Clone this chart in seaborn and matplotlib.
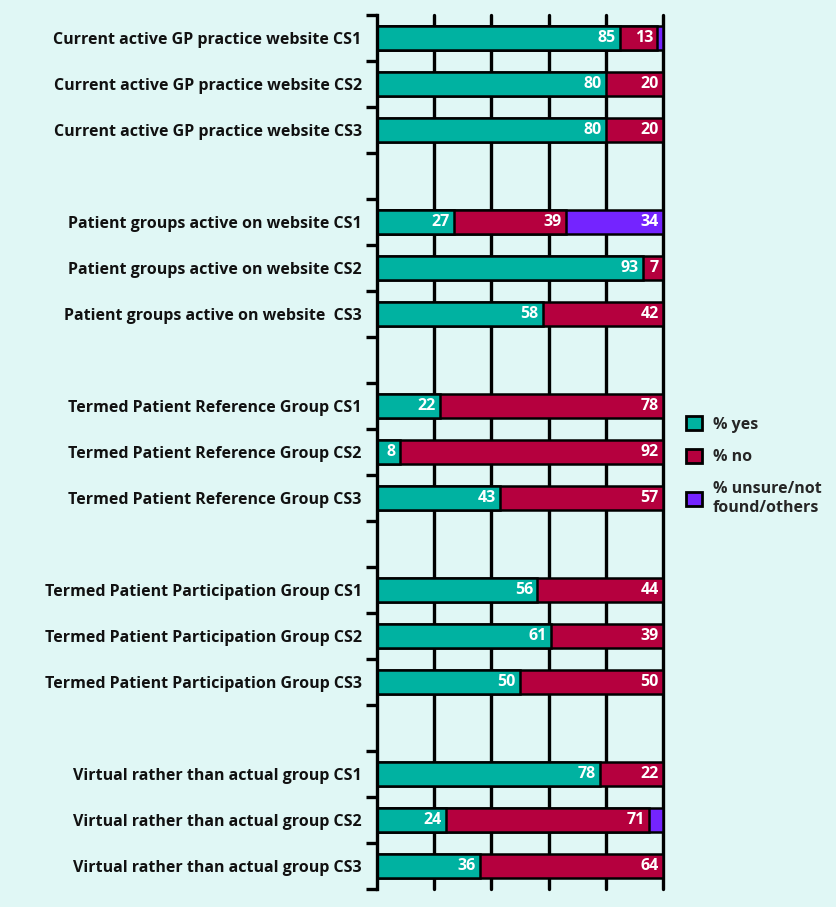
import pandas as pd
import seaborn as sns
import matplotlib.pyplot as plt
from matplotlib.patches import Patch

# chart data (percent of practices)
categories = [
    'Current active GP practice website CS1',
    'Current active GP practice website CS2',
    'Current active GP practice website CS3',
    'Patient groups active on website CS1',
    'Patient groups active on website CS2',
    'Patient groups active on website  CS3',
    'Termed Patient Reference Group CS1',
    'Termed Patient Reference Group CS2',
    'Termed Patient Reference Group CS3',
    'Termed Patient Participation Group CS1',
    'Termed Patient Participation Group CS2',
    'Termed Patient Participation Group CS3',
    'Virtual rather than actual group CS1',
    'Virtual rather than actual group CS2',
    'Virtual rather than actual group CS3',
]
pct_yes = [85, 80, 80, 27, 93, 58, 22, 8, 43, 56, 61, 50, 78, 24, 36]
pct_no = [13, 20, 20, 39, 7, 42, 78, 92, 57, 44, 39, 50, 22, 71, 64]
pct_unsure = [2, 0, 0, 34, 0, 0, 0, 0, 0, 0, 0, 0, 0, 5, 0]

# empty rows between the groups of three
order = []
for i, c in enumerate(categories):
    order.append(c)
    if i % 3 == 2 and i < len(categories) - 1:
        order.append(' ' * (i // 3 + 1))

df = pd.DataFrame({'label': categories, 'yes': pct_yes, 'no': pct_no, 'unsure': pct_unsure})
df['yes_no'] = df['yes'] + df['no']
df['total'] = df['yes_no'] + df['unsure']

teal = '#00b2a1'
crimson = '#b5003e'
purple = '#7424ff'
bg = '#e0f7f5'

sns.set_theme(style='white')
plt.rcParams['font.family'] = ['Open Sans', 'DejaVu Sans']
plt.rcParams['font.weight'] = 'bold'

fig = plt.figure(figsize=(8.37, 9.07), dpi=100, facecolor=bg)
ax = fig.add_axes([0.4504, 0.0198, 0.3417, 0.9637])
ax.set_facecolor(bg)

bar_kw = dict(orient='h', order=order, width=0.52, edgecolor='black', linewidth=1.8, errorbar=None)
sub = df[df['unsure'] > 0]
sns.barplot(data=sub, x='total', y='label', color=purple, saturation=1, ax=ax, **bar_kw)
sns.barplot(data=df, x='yes_no', y='label', color=crimson, saturation=1, ax=ax, **bar_kw)
sns.barplot(data=df, x='yes', y='label', color=teal, saturation=1, ax=ax, **bar_kw)

ax.set_xlim(0, 100)
ax.set_ylim(len(order) - 0.5, -0.5)
ax.set_xlabel('')
ax.set_ylabel('')
ax.set_xticks([])

for x in [20, 40, 60, 80, 100]:
    ax.axvline(x, color='black', lw=2.4, zorder=0.5, clip_on=False)

# value labels
pos = {c: order.index(c) for c in categories}
for _, r in df.iterrows():
    y = pos[r['label']]
    for end, val in [(r['yes'], r['yes']), (r['yes_no'], r['no']), (r['total'], r['unsure'])]:
        if val >= 7:
            ax.annotate(f'{val:g}', (end, y), xytext=(-3, 0), textcoords='offset points',
                        ha='right', va='center', color='white', fontsize=11.5, fontweight='bold')

ax.set_yticks(range(len(order)))
ax.set_yticklabels(order, fontsize=11.5, fontweight='bold', color='#111111')
ax.tick_params(axis='y', which='major', length=0, pad=11)
ax.set_yticks([i - 0.5 for i in range(len(order) + 1)], minor=True)
ax.tick_params(axis='y', which='minor', length=8, width=2.4, color='black', left=True)

for s in ['top', 'right', 'bottom']:
    ax.spines[s].set_visible(False)
ax.spines['left'].set_color('black')
ax.spines['left'].set_linewidth(2.4)

handles = [Patch(facecolor=teal, edgecolor='black', lw=2, label='% yes'),
           Patch(facecolor=crimson, edgecolor='black', lw=2, label='% no'),
           Patch(facecolor=purple, edgecolor='black', lw=2, label='% unsure/not\nfound/others')]
fig.legend(handles=handles, loc='upper left', bbox_to_anchor=(0.802, 0.557), frameon=False,
           handlelength=1.0, handleheight=1.0, handletextpad=0.7, labelspacing=1.0,
           prop={'weight': 'bold', 'size': 11.5})

plt.savefig('out.png', dpi=100, facecolor=bg)
